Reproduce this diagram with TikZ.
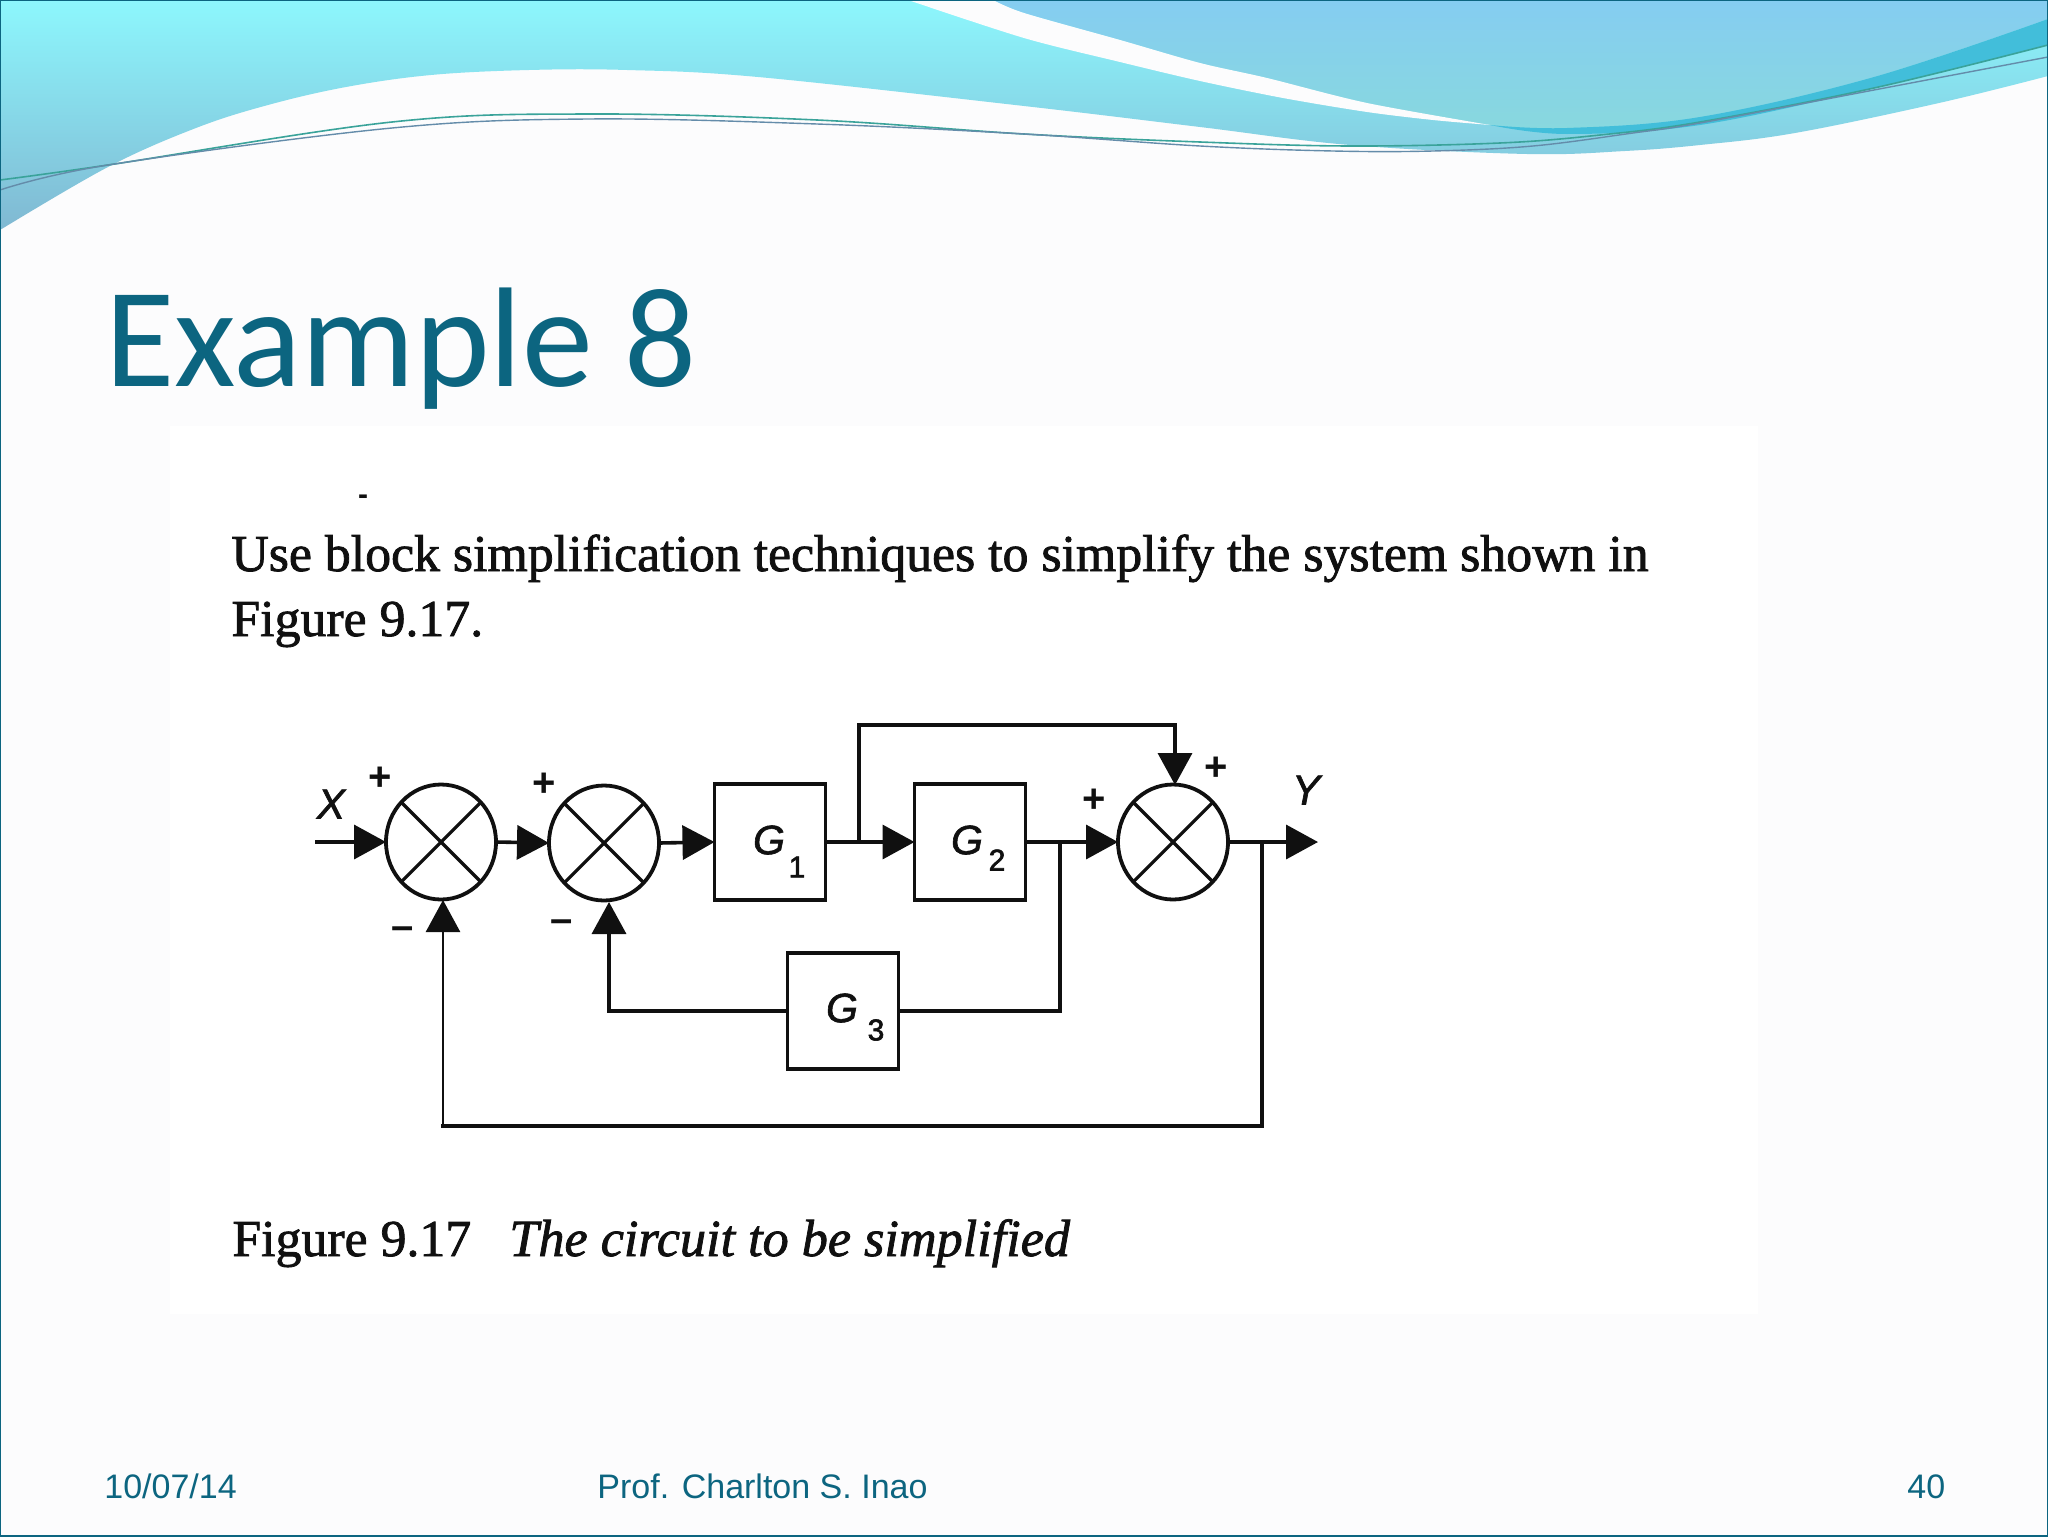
\documentclass[tikz,border=0pt]{standalone}
\usepackage{fontspec}
\setmainfont{Liberation Serif}
\newfontfamily\scanfont[FakeBold=1.5]{Liberation Serif}
\newfontfamily\scanital[FakeBold=1.5]{Liberation Serif Italic}
\newfontfamily\helfont{Liberation Sans}
\newfontfamily\helscan[FakeBold=1.5]{Liberation Sans Italic}
\newfontfamily\helnum[FakeBold=2]{Liberation Sans}
\newfontfamily\carlfont{Carlito}
\usetikzlibrary{arrows.meta,shapes.geometric}
\definecolor{bgc}{HTML}{FCFCFD}
\definecolor{tealc}{HTML}{0C6580}
\definecolor{inkc}{HTML}{101010}
\tikzset{
  sumnode/.style={draw=inkc,ellipse,line width=1.9pt,fill=white,minimum width=55pt,minimum height=57.5pt,inner sep=0pt,outer sep=0pt},
  blocknode/.style={draw=inkc,line width=1.9pt,fill=white,minimum width=55.5pt,minimum height=58pt,inner sep=0pt,outer sep=0pt},
  conn/.style={draw=inkc,line width=1.8pt},
  arr/.style={conn,-{Triangle[length=16pt,width=17pt]}},
  thinarr/.style={draw=inkc,line width=1.3pt,-{Triangle[length=16pt,width=17pt]}},
  crossln/.style={draw=inkc,line width=1.6pt},
  glab/.style={font=\helscan\fontsize{20.5}{20.5}\selectfont,text=inkc,inner sep=0pt},
  sublab/.style={font=\helnum\fontsize{15}{15}\selectfont,text=inkc,inner sep=0pt},
  sign/.style={font=\helfont\bfseries\fontsize{20}{20}\selectfont,text=inkc,inner sep=0pt},
  xylab/.style={font=\helscan\fontsize{21}{21}\selectfont,text=inkc,inner sep=0pt},
  body/.style={font=\scanfont\fontsize{25.9}{25.9}\selectfont,text=inkc,inner sep=0pt,anchor=base west},
  foot/.style={font=\helfont\fontsize{17}{17}\selectfont,text=tealc,inner sep=0pt,anchor=base west},
}
\begin{document}
\begin{tikzpicture}[x=0.5pt,y=-0.5pt]
\useasboundingbox (0,0) rectangle (2048,1536);
\fill[bgc] (0,0) rectangle (2048,1536);
% header waves
\shade[top color={rgb,255:red,141;green,247;blue,253},middle color={rgb,255:red,130;green,224;blue,236},bottom color={rgb,255:red,128;green,184;blue,210}]
  (0,0) -- (0,230) -- plot[smooth,tension=.6] coordinates {(0,230) (108,167) (196,128) (268,105) (346,87) (431,75) (529,70) (627,70) (758,77) (1024,106) (1200,127) (1350,145) (1527,154) (1625,151) (1700,145) (1795,133) (1939,103) (2048,76)} -- (2048,0) -- cycle;
\shade[top color={rgb,255:red,133;green,205;blue,241},bottom color={rgb,255:red,136;green,216;blue,222}]
  (993,0) -- plot[smooth,tension=.5] coordinates {(993,0) (1024,13) (1120,40) (1200,63) (1267,78) (1367,103) (1490,125)} -- plot[smooth,tension=.6] coordinates {(1490,125) (1567,128) (1700,117) (1874,77) (2048,19)} -- (2048,0) -- cycle;
\fill[bgc] plot[smooth,tension=.5] coordinates {(908,0) (1024,38) (1120,62) (1200,81) (1283,98) (1367,112) (1433,120) (1490,125)} -- plot[smooth,tension=.5] coordinates {(1490,125) (1367,103) (1267,78) (1200,63) (1120,40) (1024,13) (993,0)} -- cycle;
\fill[fill={rgb,255:red,66;green,190;blue,218}] plot[smooth,tension=.6] coordinates {(1490,125) (1567,128) (1700,117) (1874,77) (2048,19)} -- plot[smooth,tension=.6] coordinates {(2048,45) (1874,88) (1700,125) (1567,134) (1490,125)} -- cycle;
\draw[line width=.8pt,color={rgb,255:red,58;green,163;blue,154}] plot[smooth,tension=.6] coordinates {(0,180) (108,165) (392,122) (588,114) (817,120) (1024,134) (1200,142) (1350,146) (1500,143) (1600,135) (1700,122) (1874,88) (2048,45)};
\draw[line width=.7pt,color={rgb,255:red,100;green,140;blue,170}] plot[smooth,tension=.6] coordinates {(0,190) (108,165) (392,128) (588,119) (817,124) (1024,134) (1200,146) (1333,151) (1433,151) (1533,146) (1633,133) (1700,123) (1874,90) (2048,57)};
% frame
\draw[line width=1.2pt,color=tealc] (0,0) rectangle (2048,1536);
% title
\node[font=\carlfont\fontsize{71}{71}\selectfont,text=tealc,inner sep=0pt,anchor=base west] (title) at (105,386) {Example 8};
% panel
\fill[white] (170,426) rectangle (1758,1314);
\node[font=\helfont\bfseries\fontsize{15}{15}\selectfont,text=inkc,inner sep=0pt] (dash) at (363,500) {-};
\node[body] (l1) at (231,571) {Use block simplification techniques to simplify the system shown in};
\node[body] (l2) at (231,636) {Figure 9.17.};
\node[body] (c1) at (232,1256) {Figure 9.17};
\node[body,font=\scanital\fontsize{26.1}{26.1}\selectfont] (c2) at (509,1256) {The circuit to be simplified};
% blocks
\node[sumnode] (s1) at (441,842) {};
\node[sumnode] (s2) at (604,843) {};
\node[blocknode] (g1) at (770,842) {};
\node[blocknode] (g2) at (970,842) {};
\node[sumnode] (s3) at (1173,842) {};
\node[blocknode] (g3) at (843,1011) {};
\foreach \s in {s1,s2,s3}{
  \draw[crossln] (\s.45) -- (\s.225);
  \draw[crossln] (\s.135) -- (\s.315);
}
\coordinate (in) at (315,842);
\coordinate (out) at (1318,842);
\coordinate (j1) at (859,842);
\coordinate (j1t) at (859,725);
\coordinate (t3) at (1175,725);
\coordinate (t3e) at (1175,785);
\coordinate (j2) at (1060,842);
\coordinate (j2b) at (1060,1011);
\coordinate (c3) at (609,1011);
\coordinate (t2e) at (609,902);
\coordinate (j3) at (1262,842);
\coordinate (j3b) at (1262,1126);
\coordinate (b1) at (443,1126);
\coordinate (t1e) at (443,900);
\draw[arr] (in) -- (s1.west);
\draw[arr] (s1.east) -- (s2.west);
\draw[arr] (s2.east) -- (g1.west);
\draw[arr] (g1.east) -- (g2.west);
\draw[arr] (g2.east) -- (s3.west);
\draw[arr] (s3.east) -- (out);
\draw[arr] (j1) -- (j1t) -- (t3) -- (t3e);
\draw[conn] (j2) -- (j2b) -- (g3.east);
\draw[arr] (g3.west) -- (c3) -- (t2e);
\draw[conn,line cap=rect] (j3) -- (j3b) -- (b1);
\draw[thinarr] (b1) -- (t1e);
% labels
\node[glab] (g1t) at (769,840) {G};
\node[sublab] (g1s) at (797,867) {1};
\node[glab] (g2t) at (967,840) {G};
\node[sublab] (g2s) at (997,860) {2};
\node[glab] (g3t) at (842,1008) {G};
\node[sublab] (g3s) at (876,1030) {3};
\node[xylab] (xl) at (331,804) {X};
\node[xylab] (yl) at (1306,790) {Y};
\node[sign] (p1) at (380,779) {+};
\node[sign] (p2) at (544,785) {+};
\node[sign] (p3) at (1094,801) {+};
\node[sign] (p4) at (1216,769) {+};
\node[sign] (m1) at (403,933) {–};
\node[sign] (m2) at (562,926) {–};
% footer
\node[foot] (f1) at (104,1498) {10/07/14};
\node[foot] (f2) at (597,1498) {Prof. Charlton S. Inao};
\node[foot] (f3) at (1907,1498) {40};
\end{tikzpicture}
\end{document}
